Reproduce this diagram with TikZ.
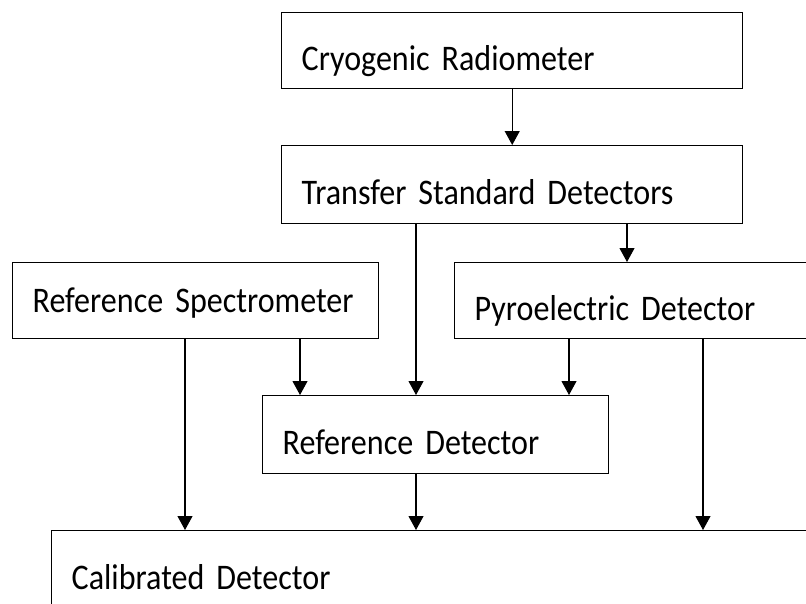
\documentclass[tikz,border=0pt]{standalone}
\usepackage{fontspec}
\setmainfont{Carlito}[FakeStretch=0.89,WordSpace=0.75]
\usetikzlibrary{arrows.meta}
\tikzset{
  box/.style={
    draw=black,
    line width=0.8pt,
    anchor=north west,
    minimum height=1.52cm,
    inner xsep=0.4cm,
    inner ysep=0pt,
    text height=0.9cm,
    text depth=0.1cm,
    align=left,
    font=\fontsize{20.5}{24}\selectfont
  },
  flow/.style={
    -{Triangle[length=0.28cm,width=0.30cm]},
    draw=black,
    line width=0.6pt
  }
}

\begin{document}
\begin{tikzpicture}

  \useasboundingbox (0,0) rectangle (16.12,-12.06);
  \clip (0,0) rectangle (16.12,-12.06);

  % Boxes, each placed by its top left corner.
  \node[box,minimum width=9.22cm,text width=8.42cm] (cryo) at (5.62,-0.24)
    {Cryogenic Radiometer};

  \node[box,minimum width=9.22cm,text width=8.42cm,minimum height=1.56cm] (transfer) at (5.62,-2.90)
    {Transfer Standard Detectors};

  \node[box,minimum width=7.32cm,text width=6.52cm,text height=0.58cm] (spectrometer) at (0.24,-5.24)
    {Reference Spectrometer};

  \node[box,minimum width=8.00cm,text width=7.20cm] (pyro) at (9.08,-5.24)
    {Pyroelectric Detector};

  \node[box,minimum width=6.92cm,text width=6.12cm,minimum height=1.56cm] (refdet) at (5.24,-7.90)
    {Reference Detector};

  \node[box,minimum width=16.00cm,text width=15.20cm,minimum height=1.56cm] (calibrated) at (1.02,-10.60)
    {Calibrated Detector};

  % Start points of the connectors along the box bottoms.
  \coordinate (transferA) at ([xshift=2.70cm]transfer.south west);
  \coordinate (transferB) at ([xshift=6.92cm]transfer.south west);
  \coordinate (spectroA) at ([xshift=3.46cm]spectrometer.south west);
  \coordinate (spectroB) at ([xshift=5.76cm]spectrometer.south west);
  \coordinate (pyroA) at ([xshift=2.30cm]pyro.south west);
  \coordinate (pyroB) at ([xshift=4.98cm]pyro.south west);
  \coordinate (refdetA) at ([xshift=3.08cm]refdet.south west);

  \draw[flow] (cryo.south) -- (transfer.north);
  \draw[flow] (transferA) -- (transferA |- refdet.north);
  \draw[flow] (transferB) -- (transferB |- pyro.north);
  \draw[flow] (spectroA) -- (spectroA |- calibrated.north);
  \draw[flow] (spectroB) -- (spectroB |- refdet.north);
  \draw[flow] (pyroA) -- (pyroA |- refdet.north);
  \draw[flow] (pyroB) -- (pyroB |- calibrated.north);
  \draw[flow] (refdetA) -- (refdetA |- calibrated.north);

\end{tikzpicture}
\end{document}
